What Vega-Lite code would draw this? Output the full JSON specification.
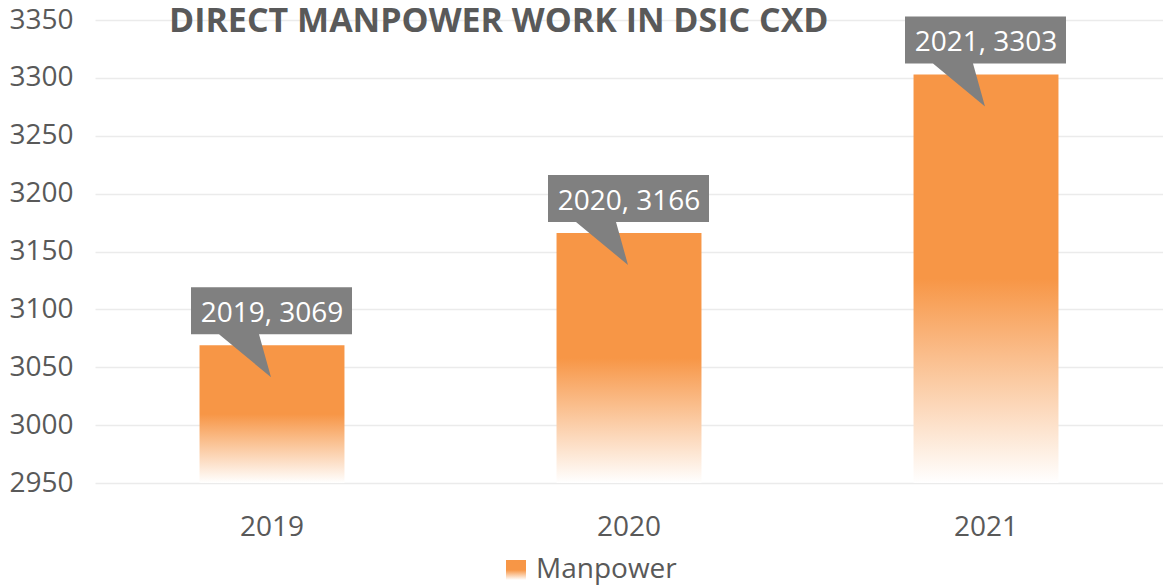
{
  "$schema": "https://vega.github.io/schema/vega-lite/v6.json",
  "autosize": {"type": "none"},
  "width": 1068,
  "height": 463,
  "padding": {"left": 95, "top": 20, "right": 0, "bottom": 103},
  "background": "white",
  "config": {
    "font": "Open Sans",
    "view": {"stroke": null}
  },
  "title": {
    "text": "DIRECT MANPOWER WORK IN DSIC CXD",
    "anchor": "start",
    "frame": "group",
    "orient": "top",
    "dx": 74,
    "offset": -60,
    "baseline": "alphabetic",
    "font": "Open Sans",
    "fontSize": 34,
    "fontWeight": "bold",
    "color": "#595959"
  },
  "data": {
    "values": [
      {"year": "2019", "value": 3069, "series": "Manpower"},
      {"year": "2020", "value": 3166, "series": "Manpower"},
      {"year": "2021", "value": 3303, "series": "Manpower"}
    ]
  },
  "transform": [
    {"calculate": "datum.year + ', ' + datum.value", "as": "label"}
  ],
  "encoding": {
    "x": {
      "field": "year",
      "type": "ordinal",
      "scale": {"paddingInner": 0.594, "paddingOuter": 0.2928},
      "axis": {
        "title": null,
        "domain": false,
        "ticks": false,
        "tickSize": 0,
        "labelAngle": 0,
        "labelPadding": 52,
        "labelFont": "Open Sans",
        "labelFontSize": 28,
        "labelColor": "#595959",
        "labelBaseline": "alphabetic"
      }
    },
    "y": {
      "field": "value",
      "type": "quantitative",
      "scale": {"domain": [2950, 3350], "zero": false, "nice": false},
      "axis": {
        "title": null,
        "domain": false,
        "ticks": false,
        "tickSize": 0,
        "format": "d",
        "values": [2950, 3000, 3050, 3100, 3150, 3200, 3250, 3300, 3350],
        "labelPadding": 22,
        "labelFont": "Open Sans",
        "labelFontSize": 28,
        "labelColor": "#595959",
        "gridColor": "#ebebeb",
        "gridWidth": 1.5
      }
    }
  },
  "layer": [
    {
      "mark": {
        "type": "bar",
        "color": {
          "gradient": "linear",
          "x1": 0, "y1": 0, "x2": 0, "y2": 1,
          "stops": [
            {"offset": 0, "color": "#f79646"},
            {"offset": 0.5, "color": "#f79646"},
            {"offset": 1, "color": "#ffffff"}
          ]
        }
      },
      "encoding": {
        "y2": {"datum": 2950},
        "opacity": {
          "field": "series",
          "type": "ordinal",
          "scale": {"range": [1, 1]},
          "legend": {
            "orient": "none",
            "legendX": 407,
            "legendY": 536,
            "title": null,
            "symbolType": "square",
            "symbolSize": 400,
            "symbolStrokeWidth": 0,
            "labelFont": "Open Sans",
            "labelFontSize": 28,
            "labelColor": "#595959",
            "labelOffset": 6
          }
        }
      }
    },
    {
      "mark": {
        "type": "point",
        "shape": "M-81,-58 L80,-58 L80,-11 L-13,-11 L-1,32 L-53,-11 L-81,-11 Z",
        "size": 4,
        "filled": true,
        "opacity": 1,
        "fill": "#808080",
        "strokeWidth": 0
      }
    },
    {
      "mark": {
        "type": "text",
        "align": "center",
        "baseline": "alphabetic",
        "dy": -23,
        "font": "Open Sans",
        "fontSize": 28,
        "color": "#ffffff"
      },
      "encoding": {"text": {"field": "label"}}
    }
  ]
}
